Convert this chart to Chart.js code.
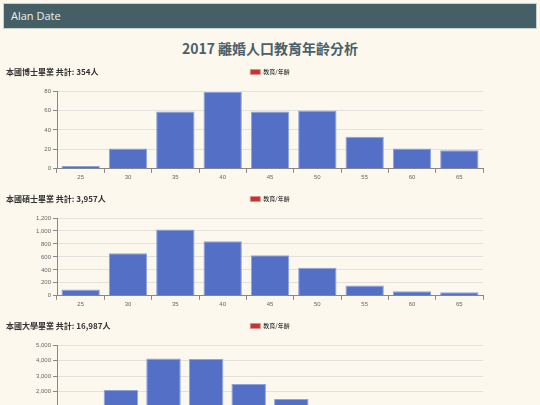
<!DOCTYPE html>
<html>
<head>
<meta charset="utf-8">
<script src="https://cdn.jsdelivr.net/npm/chart.js@4"></script>
<style>
  body { margin: 0; background: #fcf8ee; font-family: "Noto Sans CJK TC", "Liberation Sans", sans-serif; }
  .header {
    position: absolute; left: 3px; top: 3px; width: 534px; height: 26px;
    box-sizing: border-box; background: #455f66; border: 1px solid #c9d1cc;
    color: #eef0ee; font: 11px "Open Sans", sans-serif; line-height: 23px; padding-left: 7px;
  }
  h1 {
    position: absolute; top: 38px; left: 0; width: 540px; margin: 0; text-align: center;
    font: bold 14px "Noto Sans CJK TC", sans-serif; color: #4a6169; line-height: 20px;
  }
  .sec { position: absolute; left: 0; width: 540px; height: 122px; }
  .sec .t {
    position: absolute; left: 6px; top: 5px; color: #333;
    font: bold 8px "Noto Sans CJK TC", sans-serif; line-height: 10px;
  }
</style>
</head>
<body>
<div class="header">Alan Date</div>
<h1>2017 離婚人口教育年齡分析</h1>

<div class="sec" style="top:62px">
  <div class="t">本國博士畢業 共計: 354人</div>
  <canvas id="phdChart" width="540" height="122"></canvas>
</div>
<div class="sec" style="top:189px">
  <div class="t">本國碩士畢業 共計: 3,957人</div>
  <canvas id="masterChart" width="540" height="122"></canvas>
</div>
<div class="sec" style="top:316px">
  <div class="t">本國大學畢業 共計: 16,987人</div>
  <canvas id="bachelorChart" width="540" height="122"></canvas>
</div>

<script>
// age groups
const ageLabels = ["25", "30", "35", "40", "45", "50", "55", "60", "65"];
const ageLabelsUni = ["25", "30", "35", "40", "45", "50", "55", "60", "65", "70"];

// people per age group
const phdValues = [3, 21, 59, 79, 59, 60, 33, 21, 19];
const masterValues = [97, 656, 1022, 842, 624, 434, 158, 70, 54];
const bachelorValues = [470, 2105, 4130, 4100, 2497, 1536, 1000, 600, 350, 199];

const legendLabel = "教育/年齡";

// push the plot down under the legend, and center legend on the whole canvas
const legendTweak = {
  id: "legendTweak",
  beforeInit(chart) {
    const fit = chart.legend.fit;
    chart.legend.fit = function () {
      fit.bind(chart.legend)();
      this.height += 6;
    };
  },
  afterLayout(chart) {
    const lg = chart.legend;
    lg.left = 0;
    lg.right = chart.width;
    lg.width = chart.width;
  },
};

function makeChart(id, labels, values, max, step) {
  const ctx = document.getElementById(id).getContext("2d");
  return new Chart(ctx, {
    type: "bar",
    data: {
      labels: labels,
      datasets: [
        {
          label: legendLabel,
          data: values,
          backgroundColor: "#5470c6",
          borderColor: "#8ea3df",
          borderWidth: 1,
          barPercentage: 0.81,
          categoryPercentage: 1.0,
        },
      ],
    },
    options: {
      responsive: false,
      animation: false,
      layout: { padding: { left: 0, right: 57, top: 0, bottom: 2 } },
      plugins: {
        legend: {
          position: "top",
          labels: {
            boxWidth: 10,
            boxHeight: 5,
            padding: 7,
            color: "#555",
            font: { size: 6, family: "'Noto Sans CJK TC', sans-serif" },
            generateLabels: () => [
              { text: legendLabel, fillStyle: "#c23531", strokeStyle: "#e08c8a", lineWidth: 1, datasetIndex: 0 },
            ],
          },
        },
        tooltip: { enabled: false },
      },
      scales: {
        x: {
          grid: { offset: true, drawOnChartArea: false, tickLength: 4, color: "#888" },
          border: { color: "#888" },
          ticks: { color: "#666", padding: 1, maxRotation: 0, font: { size: 6, family: "'Liberation Sans', sans-serif" } },
        },
        y: {
          min: 0,
          max: max,
          afterFit: (scale) => { scale.width = 57; },
          grid: { color: "#e3e1dc", tickLength: 4, tickColor: "#888" },
          border: { color: "#888" },
          ticks: { stepSize: step, color: "#666", padding: 2, font: { size: 6, family: "'Liberation Sans', sans-serif" } },
        },
      },
    },
    plugins: [legendTweak],
  });
}

makeChart("phdChart", ageLabels, phdValues, 80, 20);
makeChart("masterChart", ageLabels, masterValues, 1200, 200);
makeChart("bachelorChart", ageLabelsUni, bachelorValues, 5000, 1000);
</script>
</body>
</html>
